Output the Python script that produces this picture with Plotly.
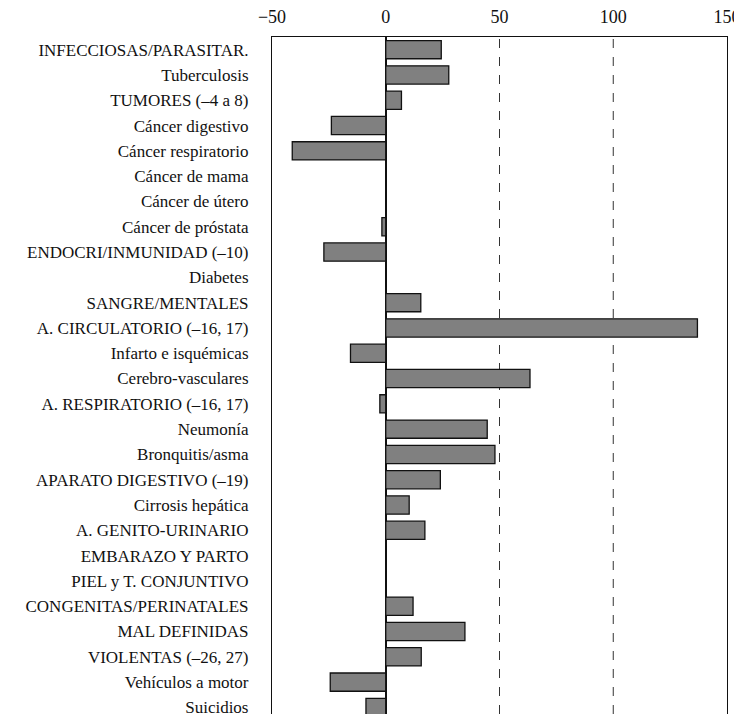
import plotly.graph_objects as go

# causas de muerte (de arriba abajo) y su valor
causas = [
    "INFECCIOSAS/PARASITAR.", "Tuberculosis", "TUMORES (–4 a 8)",
    "Cáncer digestivo", "Cáncer respiratorio", "Cáncer de mama",
    "Cáncer de útero", "Cáncer de próstata", "ENDOCRI/INMUNIDAD (–10)",
    "Diabetes", "SANGRE/MENTALES", "A. CIRCULATORIO (–16, 17)",
    "Infarto e isquémicas", "Cerebro-vasculares", "A. RESPIRATORIO (–16, 17)",
    "Neumonía", "Bronquitis/asma", "APARATO DIGESTIVO (–19)",
    "Cirrosis hepática", "A. GENITO-URINARIO", "EMBARAZO Y PARTO",
    "PIEL y T. CONJUNTIVO", "CONGENITAS/PERINATALES", "MAL DEFINIDAS",
    "VIOLENTAS (–26, 27)", "Vehículos a motor", "Suicidios",
]
valores = [
    24.4, 27.7, 6.9,
    -23.9, -41.1, 0,
    0, -1.7, -27.2,
    0, 15.4, 137,
    -15.5, 63.4, -2.6,
    44.6, 48, 24,
    10.3, 17.2, 0,
    0, 12, 34.8,
    15.6, -24.4, -8.7,
]
ticks_x = [-50, 0, 50, 100, 150]

fuente = "Liberation Serif"

fig = go.Figure()
fig.add_trace(go.Bar(
    x=valores, y=causas, orientation="h",
    marker=dict(color="#808080", line=dict(color="#111111", width=1.3)),
    width=0.72,
))

# lineas discontinuas en 50 y 100
for v in [50, 100]:
    fig.add_shape(type="line", xref="x", yref="paper", x0=v, x1=v, y0=0, y1=1,
                  line=dict(color="#333333", width=1, dash="dash"), layer="below")

# el body de la pagina tiene 8px de margen, se descuenta aqui
fig.update_layout(
    width=734, height=706,
    margin=dict(l=264, r=15, t=29, b=0),
    plot_bgcolor="white", paper_bgcolor="white",
    showlegend=False,
    font=dict(family=fuente, color="#111111"),
    xaxis=dict(
        side="top", range=[-50, 150], tickvals=ticks_x, automargin=False,
        showgrid=False, zeroline=True, zerolinecolor="#111111", zerolinewidth=1.5,
        showline=True, linecolor="#111111", linewidth=1.2,
        ticks="", tickfont=dict(size=18, family=fuente), ticklabelstandoff=6,
    ),
    yaxis=dict(
        categoryorder="array", categoryarray=causas, automargin=False,
        range=[26.26, -0.5],
        showgrid=False, showline=True, mirror=True,
        linecolor="#111111", linewidth=1.2,
        ticks="", tickfont=dict(size=17, family=fuente), ticklabelstandoff=19,
    ),
)

fig.write_html("out.html")
